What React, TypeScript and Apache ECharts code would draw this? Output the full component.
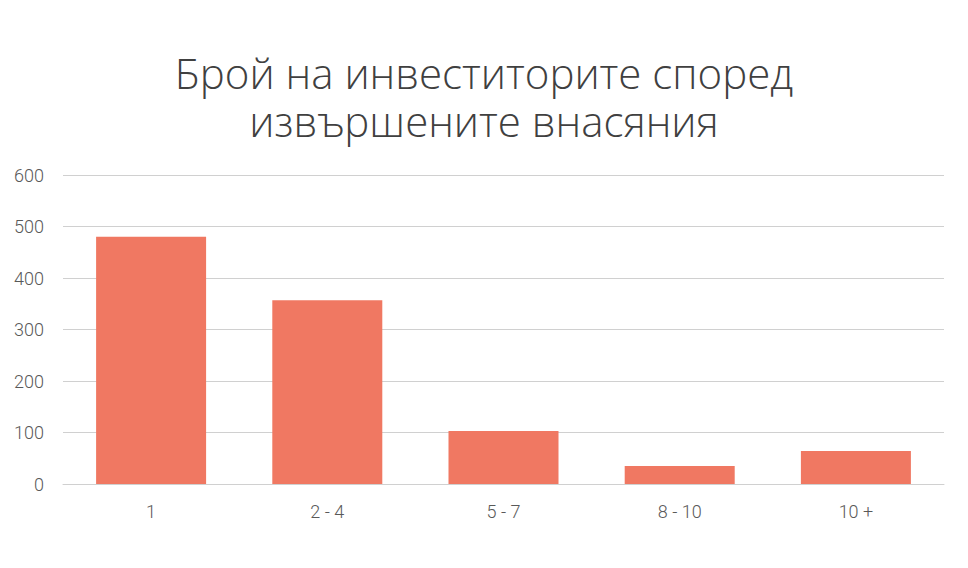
import React, { useEffect, useRef } from "react";
import * as echarts from "echarts";

const categories = ["1", "2 - 4", "5 - 7", "8 - 10", "10 +"];
const values = [480, 357, 103, 35, 64];
const titleLines = ["Брой на инвеститорите според", "извършените внасяния"];

export default function App() {
  const ref = useRef<HTMLDivElement>(null);
  useEffect(() => {
    const chart = echarts.init(ref.current!, null, { renderer: "svg" });
    const titleStyle = {
      fontFamily: "Open Sans",
      fontWeight: 300,
      fontSize: 42,
      lineHeight: 46,
      color: "#404040",
    };
    chart.setOption({
      animation: false,
      backgroundColor: "#ffffff",
      title: titleLines.map((t, i) => ({
        text: t,
        left: "center",
        top: 44 + i * 48,
        padding: [5, 5, 0, 5],
        textStyle: titleStyle,
      })),
      grid: { left: 63, right: 24, top: 175, bottom: 84, containLabel: false },
      xAxis: {
        type: "category",
        data: categories,
        axisLine: { show: true, lineStyle: { color: "#d0d0d0", width: 1 } },
        axisTick: { show: false },
        axisLabel: {
          margin: 18,
          fontFamily: "Roboto",
          fontWeight: 300,
          fontSize: 18,
          color: "#595959",
        },
      },
      yAxis: {
        type: "value",
        min: 0,
        max: 600,
        interval: 100,
        axisLine: { show: false },
        axisTick: { show: false },
        splitLine: { lineStyle: { color: "#d0d0d0", width: 1 } },
        axisLabel: {
          margin: 19,
          fontFamily: "Roboto",
          fontWeight: 300,
          fontSize: 18,
          color: "#595959",
        },
      },
      series: [
        {
          type: "bar",
          data: values,
          barWidth: 110,
          itemStyle: { color: "#f07862" },
        },
      ],
    });
    return () => chart.dispose();
  }, []);
  return (
    <div
      ref={ref}
      style={{ position: "absolute", left: 0, top: 0, width: 968, height: 568 }}
    />
  );
}
